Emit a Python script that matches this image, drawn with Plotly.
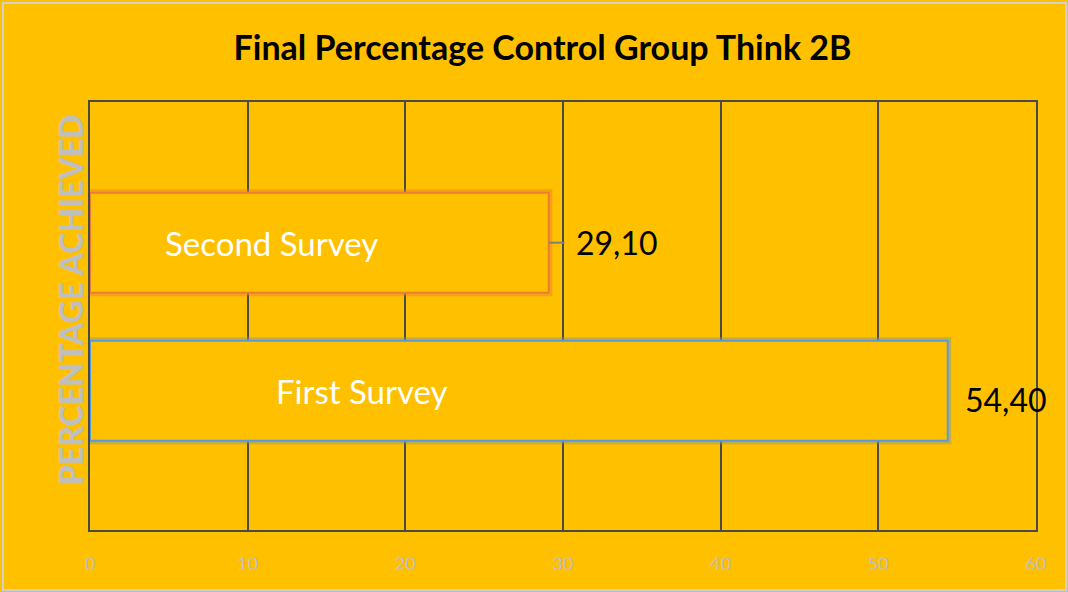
import plotly.graph_objects as go

categories = ["First Survey", "Second Survey"]
values = [54.40, 29.10]
value_labels = ["54,40", "29,10"]
tick_vals = [0, 10, 20, 30, 40, 50, 60]

BG = "#FFC000"
FONT = "Lato, Open Sans, sans-serif"
edge_colors = ["#5B9BD5", "#ED7D31"]
glow_colors = ["rgba(120,150,170,0.45)", "rgba(237,125,49,0.45)"]

fig = go.Figure()
# glow layer
fig.add_trace(go.Bar(
    y=categories, x=values, orientation="h", width=0.676,
    marker=dict(color="rgba(0,0,0,0)", line=dict(color=glow_colors, width=7)),
    hoverinfo="skip", showlegend=False))
# main outlined bars
fig.add_trace(go.Bar(
    y=categories, x=values, orientation="h", width=0.676,
    marker=dict(color=BG, line=dict(color=edge_colors, width=2)),
    showlegend=False))

# series names inside bars
name_x = [17.25, 11.5]
for cat, nx in zip(categories, name_x):
    fig.add_annotation(x=nx, y=cat, text=cat, showarrow=False, xref="x", yref="y",
                       font=dict(family=FONT, size=33, color="white"))

# value labels
shifts = [(15, -9), (25, 0)]
for cat, v, lab, (dx, dy) in zip(categories, values, value_labels, shifts):
    fig.add_annotation(x=v, y=cat, text=lab, showarrow=False, xref="x", yref="y",
                       xanchor="left", xshift=dx, yshift=dy,
                       font=dict(family=FONT, size=32, color="black"))

# leader line for the second survey label
fig.add_shape(type="line", xref="x", yref="y", x0=values[1], x1=values[1] + 1.0,
              y0=categories[1], y1=categories[1], line=dict(color="#7F7F7F", width=2))

# y-axis title
fig.add_annotation(x=-0.021, y=0.537, xref="paper", yref="paper", text="PERCENTAGE ACHIEVED",
                   textangle=-90, showarrow=False, xanchor="center", yanchor="middle",
                   font=dict(family=FONT, size=32, color="#BFBFBF", weight=900))

# outer faint border
fig.add_shape(type="rect", xref="paper", yref="paper",
              x0=(3 - 90) / 946, x1=(1066 - 90) / 946, y0=(530 - 590) / 428, y1=(530 - 3) / 428,
              line=dict(color="#D0D0D0", width=2), layer="below")

fig.update_layout(
    width=1068, height=592,
    paper_bgcolor=BG, plot_bgcolor=BG,
    margin=dict(l=90, r=32, t=102, b=62),
    barmode="overlay",
    title=dict(text="<b>Final Percentage Control Group Think 2B</b>", x=0.508, xanchor="center",
               y=0.918, yanchor="middle",
               font=dict(family=FONT, size=34, color="black")),
    xaxis=dict(range=[0, 60], tickvals=tick_vals, showgrid=True, gridcolor="#4A4A4A", gridwidth=1.5,
               zeroline=False, showline=True, linecolor="#4A4A4A", linewidth=2, mirror=True,
               tickfont=dict(family=FONT, size=18, color="#BFBFBF"),
               ticks="", ticklabelstandoff=16, fixedrange=True),
    yaxis=dict(categoryorder="array", categoryarray=categories, range=[-0.94, 1.95],
               showticklabels=False, showgrid=False, zeroline=False, showline=True,
               linecolor="#4A4A4A", linewidth=2, mirror=True, ticks="", fixedrange=True),
)

fig.write_html("out.html", config={"displayModeBar": False},
               post_script="document.body.style.margin='0';")
